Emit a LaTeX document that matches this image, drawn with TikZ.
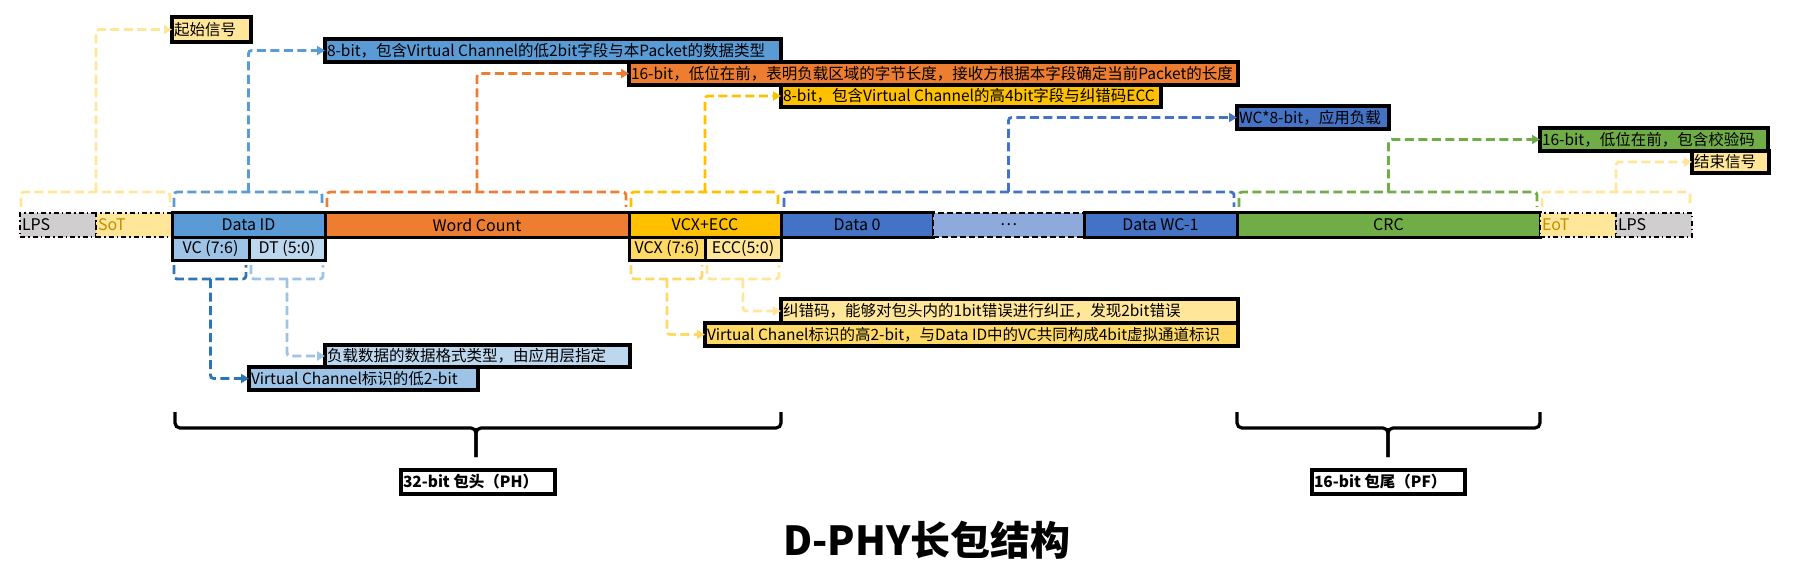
\documentclass[tikz,border=0pt]{standalone}
\usepackage{fontspec}
\setmainfont{Noto Sans CJK SC}
\usetikzlibrary{arrows.meta}
\definecolor{cLPS}{HTML}{D0CECE}
\definecolor{cY}{HTML}{FFE699}
\definecolor{cYd}{HTML}{FFD966}
\definecolor{cGold}{HTML}{FFC000}
\definecolor{cBa}{HTML}{5B9BD5}
\definecolor{cBb}{HTML}{4472C4}
\definecolor{cBc}{HTML}{8EA9DB}
\definecolor{cBd}{HTML}{9DC3E6}
\definecolor{cBe}{HTML}{BDD7EE}
\definecolor{cBf}{HTML}{2E75B6}
\definecolor{cO}{HTML}{ED7D31}
\definecolor{cG}{HTML}{70AD47}
\definecolor{cTxt}{HTML}{BF8F00}
\newcommand\fsz{\fontsize{15.5}{18}\selectfont}
\newcommand\fszc{\fontsize{16}{19}\selectfont}
\newcommand\lt[2]{\makebox[#1pt][l]{#2}}
\begin{document}
\begin{tikzpicture}[x=1pt,y=-1pt,
  cell/.style={draw=black, line width=3pt, anchor=north west, minimum height=24pt, inner sep=0pt, outer sep=0pt, font=\fszc},
  subcell/.style={cell, minimum height=23pt},
  dd/.style={line width=2.2pt, dash pattern=on 5pt off 3pt on 1.5pt off 3pt},
  lbl/.style={draw=black, line width=3.4pt, anchor=north west, inner xsep=2pt, inner ysep=0pt, outer sep=0pt, font=\fsz},
  dconn/.style={line width=2.8pt, dash pattern=on 9pt off 4.5pt, rounded corners=3pt},
  arr/.style={-{Triangle[length=8pt,width=9pt]}},
  brace/.style={line width=3.2pt, draw=black, rounded corners=5pt}
]
\fill[white] (0,0) rectangle (1793,580);
\useasboundingbox (0,0) rectangle (1793,580);

% ---------- main row cells ----------
\node[cell, dd, fill=cLPS, minimum width=76pt] (lpsA) at (20,213) {\makebox[72pt][l]{LPS}};
\node[cell, dd, fill=cY, minimum width=76pt, text=cTxt] (sot) at (96,213) {\makebox[72pt][l]{SoT}};
\node[cell, fill=cBa, minimum width=153pt] (did) at (172,213) {Data ID};
\node[cell, fill=cO, minimum width=304pt] (wc) at (325,213) {Word Count};
\node[cell, fill=cGold, minimum width=152pt] (vcx) at (629,213) {VCX+ECC};
\node[cell, fill=cBb, minimum width=152pt] (d0) at (781,213) {Data 0};
\node[cell, fill=cBc, minimum width=151pt, dash pattern=on 6pt off 3pt, line width=2.2pt] (dots) at (933,213) {…};
\node[cell, fill=cBb, minimum width=153pt] (dwc) at (1084,213) {Data WC-1};
\node[cell, fill=cG, minimum width=303pt] (crc) at (1237,213) {CRC};
\node[cell, dd, fill=cY, minimum width=76pt, text=cTxt] (eot) at (1540,213) {\makebox[72pt][l]{EoT}};
\node[cell, dd, fill=cLPS, minimum width=76pt] (lpsB) at (1616,213) {\makebox[72pt][l]{LPS}};

\node[subcell, fill=cBd, minimum width=77pt] (vc) at (172,237) {VC (7:6)};
\node[subcell, fill=cBe, minimum width=76pt] (dt) at (249,237) {DT (5:0)};
\node[subcell, fill=cYd, minimum width=76pt] (vcxs) at (629,237) {VCX (7:6)};
\node[subcell, fill=cY, minimum width=76pt] (ecc) at (705,237) {ECC(5:0)};

% ---------- label boxes ----------
\node[lbl, fill=cY, minimum height=25pt] (l1) at (172,17) {\lt{75}{起始信号}};
\node[lbl, fill=cBa, minimum height=23pt] (l2) at (325,39) {\lt{452}{8-bit，包含Virtual Channel的低2bit字段与本Packet的数据类型}};
\node[lbl, fill=cO, minimum height=23pt] (l3) at (629,62) {\lt{605}{16-bit，低位在前，表明负载区域的字节长度，接收方根据本字段确定当前Packet的长度}};
\node[lbl, fill=cGold, minimum height=22pt] (l4) at (781,85) {\lt{376}{8-bit，包含Virtual Channel的高4bit字段与纠错码ECC}};
\node[lbl, fill=cBb, minimum height=23pt] (l5) at (1237,106) {\lt{148}{WC*8-bit，应用负载}};
\node[lbl, fill=cG, minimum height=23pt] (l6) at (1540,128) {\lt{224}{16-bit，低位在前，包含校验码}};
\node[lbl, fill=cY, minimum height=22pt] (l7) at (1692,151) {\lt{73}{结束信号}};
\node[lbl, fill=cY, minimum height=24pt] (l8) at (781,299) {\lt{453}{纠错码，能够对包头内的1bit错误进行纠正，发现2bit错误}};
\node[lbl, fill=cYd, minimum height=23pt] (l9) at (705,323) {\lt{529}{Virtual Chanel标识的高2-bit，与Data ID中的VC共同构成4bit虚拟通道标识}};
\node[lbl, fill=cBe, minimum height=22pt] (l10) at (325,345) {\lt{301}{负载数据的数据格式类型，由应用层指定}};
\node[lbl, fill=cBd, minimum height=23pt] (l11) at (249,367) {\lt{225}{Virtual Channel标识的低2-bit}};
\node[lbl, fill=white, minimum height=24pt, font=\fsz\bfseries] (ph) at (401,470) {\lt{150}{32-bit 包头（PH）}};
\node[lbl, fill=white, minimum height=24pt, font=\fsz\bfseries] (pf) at (1312,470) {\lt{149}{16-bit 包尾（PF）}};

% ---------- top brackets and connectors ----------
\draw[dconn, draw=cY] ([xshift=1pt,yshift=6pt]lpsA.north west) -- ([xshift=1pt,yshift=21pt]lpsA.north west) -- ([xshift=-2pt,yshift=21pt]sot.north east) -- ([xshift=-2pt,yshift=6pt]sot.north east);
\draw[dconn, draw=cY, arr] ([yshift=21pt]lpsA.north east) |- (l1.west);

\draw[dconn, draw=cBa] ([xshift=2pt,yshift=6pt]did.north west) -- ([xshift=2pt,yshift=21pt]did.north west) -- ([xshift=-3pt,yshift=21pt]did.north east) -- ([xshift=-3pt,yshift=6pt]did.north east);
\draw[dconn, draw=cBa, arr] ([yshift=21pt]did.north) |- (l2.west);

\draw[dconn, draw=cO] ([xshift=2pt,yshift=6pt]wc.north west) -- ([xshift=2pt,yshift=21pt]wc.north west) -- ([xshift=-3pt,yshift=21pt]wc.north east) -- ([xshift=-3pt,yshift=6pt]wc.north east);
\draw[dconn, draw=cO, arr] ([yshift=21pt]wc.north) |- (l3.west);

\draw[dconn, draw=cGold] ([xshift=2pt,yshift=6pt]vcx.north west) -- ([xshift=2pt,yshift=21pt]vcx.north west) -- ([xshift=-3pt,yshift=21pt]vcx.north east) -- ([xshift=-3pt,yshift=6pt]vcx.north east);
\draw[dconn, draw=cGold, arr] ([yshift=21pt]vcx.north) |- (l4.west);

\draw[dconn, draw=cBb] ([xshift=3pt,yshift=6pt]d0.north west) -- ([xshift=3pt,yshift=21pt]d0.north west) -- ([xshift=-3pt,yshift=21pt]dwc.north east) -- ([xshift=-3pt,yshift=6pt]dwc.north east);
\draw[dconn, draw=cBb, arr] ([yshift=21pt]dots.north) |- (l5.west);

\draw[dconn, draw=cG] ([xshift=2pt,yshift=6pt]crc.north west) -- ([xshift=2pt,yshift=21pt]crc.north west) -- ([xshift=-3pt,yshift=21pt]crc.north east) -- ([xshift=-3pt,yshift=6pt]crc.north east);
\draw[dconn, draw=cG, arr] ([yshift=21pt]crc.north) |- (l6.west);

\draw[dconn, draw=cY] ([xshift=2pt,yshift=6pt]eot.north west) -- ([xshift=2pt,yshift=21pt]eot.north west) -- ([xshift=-2pt,yshift=21pt]lpsB.north east) -- ([xshift=-2pt,yshift=6pt]lpsB.north east);
\draw[dconn, draw=cY, arr] ([yshift=21pt]eot.north east) |- (l7.west);

% ---------- bottom brackets and connectors ----------
\draw[dconn, draw=cBf] ([xshift=2pt,yshift=-5pt]vc.south west) -- ([xshift=2pt,yshift=-19pt]vc.south west) -- ([xshift=-3pt,yshift=-19pt]vc.south east) -- ([xshift=-3pt,yshift=-5pt]vc.south east);
\draw[dconn, draw=cBf, arr] ([yshift=-19pt]vc.south) |- (l11.west);

\draw[dconn, draw=cBd] ([xshift=2pt,yshift=-5pt]dt.south west) -- ([xshift=2pt,yshift=-19pt]dt.south west) -- ([xshift=-2pt,yshift=-19pt]dt.south east) -- ([xshift=-2pt,yshift=-5pt]dt.south east);
\draw[dconn, draw=cBd, arr] ([yshift=-19pt]dt.south) |- (l10.west);

\draw[dconn, draw=cYd] ([xshift=2pt,yshift=-5pt]vcxs.south west) -- ([xshift=2pt,yshift=-19pt]vcxs.south west) -- ([xshift=-3pt,yshift=-19pt]vcxs.south east) -- ([xshift=-3pt,yshift=-5pt]vcxs.south east);
\draw[dconn, draw=cYd, arr] ([yshift=-19pt]vcxs.south) |- (l9.west);

\draw[dconn, draw=cY] ([xshift=2pt,yshift=-5pt]ecc.south west) -- ([xshift=2pt,yshift=-19pt]ecc.south west) -- ([xshift=-2pt,yshift=-19pt]ecc.south east) -- ([xshift=-2pt,yshift=-5pt]ecc.south east);
\draw[dconn, draw=cY, arr] ([yshift=-19pt]ecc.south) |- (l8.west);

% ---------- braces ----------
\coordinate (phL) at (175,412);
\coordinate (phR) at (781,412);
\coordinate (phM) at (476,428);
\coordinate (phT) at (476,457);
\draw[brace] (phL) |- (phM) -- (phT);
\draw[brace] (phR) |- (phM) -- (phT);
\coordinate (pfL) at (1237,412);
\coordinate (pfR) at (1540,412);
\coordinate (pfM) at (1388,428);
\coordinate (pfT) at (1388,457);
\draw[brace] (pfL) |- (pfM) -- (pfT);
\draw[brace] (pfR) |- (pfM) -- (pfT);

% ---------- title ----------
\node[font=\fontsize{40}{46}\selectfont\bfseries] (title) at (927,540) {D-PHY长包结构};
\end{tikzpicture}
\end{document}
